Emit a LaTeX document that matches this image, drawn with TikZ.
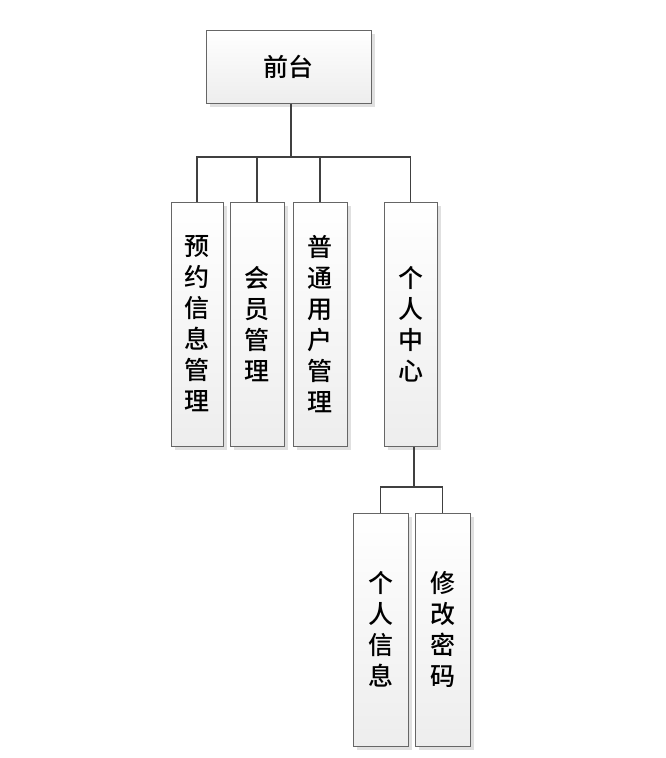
\documentclass[tikz,border=0pt]{standalone}
\usepackage{fontspec}
\newfontfamily\cjk{Noto Sans CJK SC Medium}
\usetikzlibrary{shadows,positioning}

\tikzset{
    mod/.style={draw=black!60, line width=1pt, top color=white, bottom color=black!7,
        drop shadow={shadow xshift=4pt, shadow yshift=-4pt, fill=black!12, opacity=1},
        align=center, inner sep=0pt, font=\cjk\fontsize{25}{31}\selectfont},
    link/.style={draw=black!75, line width=1.6pt}
}

\begin{document}
\begin{tikzpicture}[x=1pt, y=-1pt]
            \useasboundingbox (0,0) rectangle (666,758);

            % top
            \node[mod, minimum width=165pt, minimum height=73pt] (qiantai) at (288.5,66.5) {前台};

            % second row
            \node[mod, minimum width=52pt, minimum height=244pt] (yuyue) at (197,324) {预\\约\\信\\息\\管\\理};
            \node[mod, minimum width=54pt, minimum height=244pt] (huiyuan) at (257,324) {会\\员\\管\\理};
            \node[mod, minimum width=54pt, minimum height=244pt] (putong) at (320,324) {普\\通\\用\\户\\管\\理};
            \node[mod, minimum width=53pt, minimum height=244pt] (geren) at (410.5,324) {个\\人\\中\\心};

            % third row
            \node[mod, minimum width=55pt, minimum height=233pt] (xinxi) at (380.5,629.5) {个\\人\\信\\息};
            \node[mod, minimum width=55pt, minimum height=233pt] (mima) at (442.5,629.5) {修\\改\\密\\码};

            \coordinate (bus1) at (291,157);
            \coordinate (bus2) at (414,487);

            \draw[link] (qiantai.south -| bus1) -- (bus1);
            \foreach \n in {yuyue,huiyuan,putong,geren}
                \draw[link] (bus1) -| (\n.north);

            \draw[link] (geren.south -| bus2) -- (bus2);
            \foreach \n in {xinxi,mima}
                \draw[link] (bus2) -| (\n.north);
        \end{tikzpicture}
\end{document}
